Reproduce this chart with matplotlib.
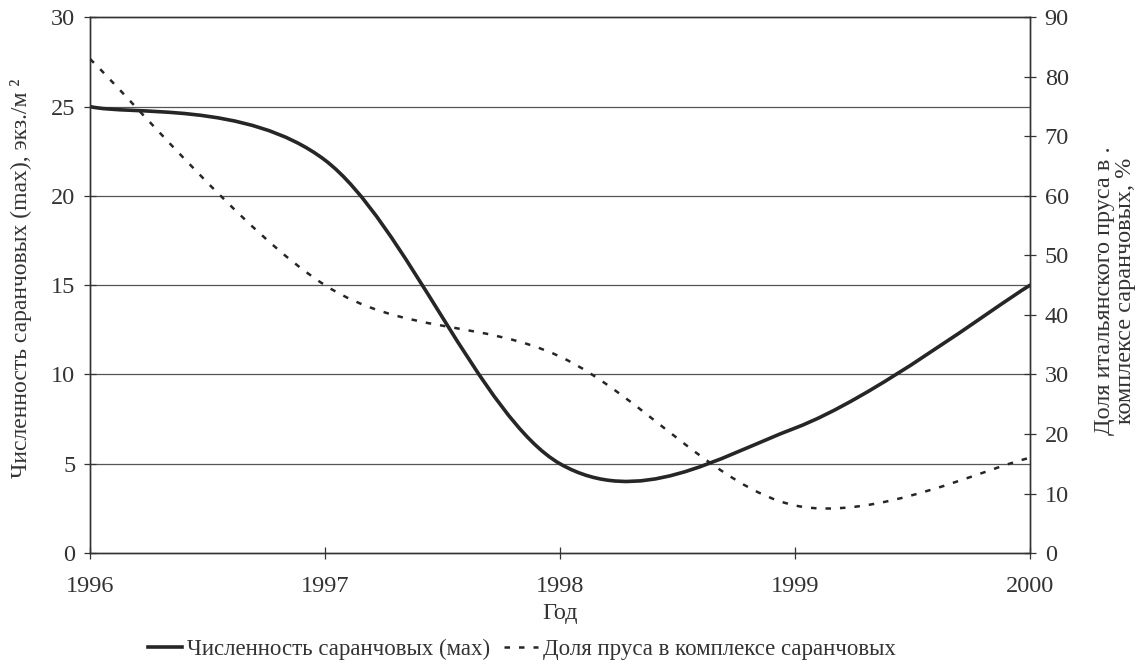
import numpy as np
import matplotlib
matplotlib.use("Agg")
import matplotlib.pyplot as plt
from matplotlib.path import Path
from matplotlib.patches import PathPatch
from matplotlib.lines import Line2D

years = [1996, 1997, 1998, 1999, 2000]
density_max = [25, 22, 5, 7, 15]        # экз./м2, left axis
italian_share = [83, 45, 33, 8, 16]     # %, right axis

plt.rcParams['font.family'] = ['Liberation Serif', 'DejaVu Serif']
FS = 17.5
TXT = '#333333'


def smooth_path(x, y):
    # Excel-like smoothed line: cubic Bezier segments through the points
    x = np.asarray(x, float)
    y = np.asarray(y, float)
    pts = np.column_stack([x, y])
    n = len(pts)
    verts = [pts[0]]
    codes = [Path.MOVETO]
    for i in range(n - 1):
        p0 = pts[i - 1] if i > 0 else pts[i]
        p1 = pts[i]
        p2 = pts[i + 1]
        p3 = pts[i + 2] if i + 2 < n else pts[i + 1]
        c1 = p1 + (p2 - p0) / 6.0
        c2 = p2 - (p3 - p1) / 6.0
        verts += [c1, c2, p2]
        codes += [Path.CURVE4] * 3
    return Path(verts, codes)


fig = plt.figure(figsize=(11.42, 6.64), dpi=100)
ax = fig.add_axes([0.0788, 0.167, 0.8232, 0.807])
ax2 = ax.twinx()

ax.set_xlim(1996, 2000)
ax.set_ylim(0, 30)
ax2.set_ylim(0, 90)
ax.set_xticks(years)
ax.set_yticks(range(0, 31, 5))
ax2.set_yticks(range(0, 91, 10))

for y in range(5, 30, 5):
    ax.axhline(y, color='#555555', lw=0.9, zorder=1)

ax.add_patch(PathPatch(smooth_path(years, density_max), facecolor='none',
                       edgecolor='#262626', lw=2.6, zorder=3,
                       capstyle='round', joinstyle='round'))
ax2.add_patch(PathPatch(smooth_path(years, italian_share), facecolor='none',
                        edgecolor='#262626', lw=1.8, linestyle=(0, (2.2, 3.6)),
                        zorder=3))

for a in (ax, ax2):
    for s in a.spines.values():
        s.set_color('#333333')
        s.set_linewidth(1.0)
    a.tick_params(direction='inout', length=9, width=0.9, colors='#333333',
                  labelsize=FS, labelcolor=TXT)
ax.tick_params(axis='x', pad=12)
ax.tick_params(axis='y', pad=6)
ax2.tick_params(axis='y', pad=6)

ax.set_xlabel('Год', fontsize=FS, color=TXT, labelpad=4)
ax.set_ylabel('Численность саранчовых (max), экз./м ²', fontsize=17,
              color=TXT)
ax.yaxis.set_label_coords(-0.062, 0.513)
ax2.set_ylabel('Доля итальянского пруса в .\nкомплексе саранчовых, %',
               fontsize=FS, color=TXT, linespacing=1.0)
ax2.yaxis.set_label_coords(1.068, 0.49)

handles = [Line2D([], [], color='#262626', lw=2.6),
           Line2D([], [], color='#262626', lw=1.8, linestyle=(0, (2.2, 3.6)))]
labels = ['Численность саранчовых (мах)', 'Доля пруса в комплексе саранчовых']
fig.legend(handles, labels, loc='center', bbox_to_anchor=(0.457, 0.022),
           ncol=2, frameon=False, fontsize=16.5, handlelength=1.5,
           handletextpad=0.2, columnspacing=0.6, labelcolor=TXT)

fig.savefig('out.png', dpi=100)
